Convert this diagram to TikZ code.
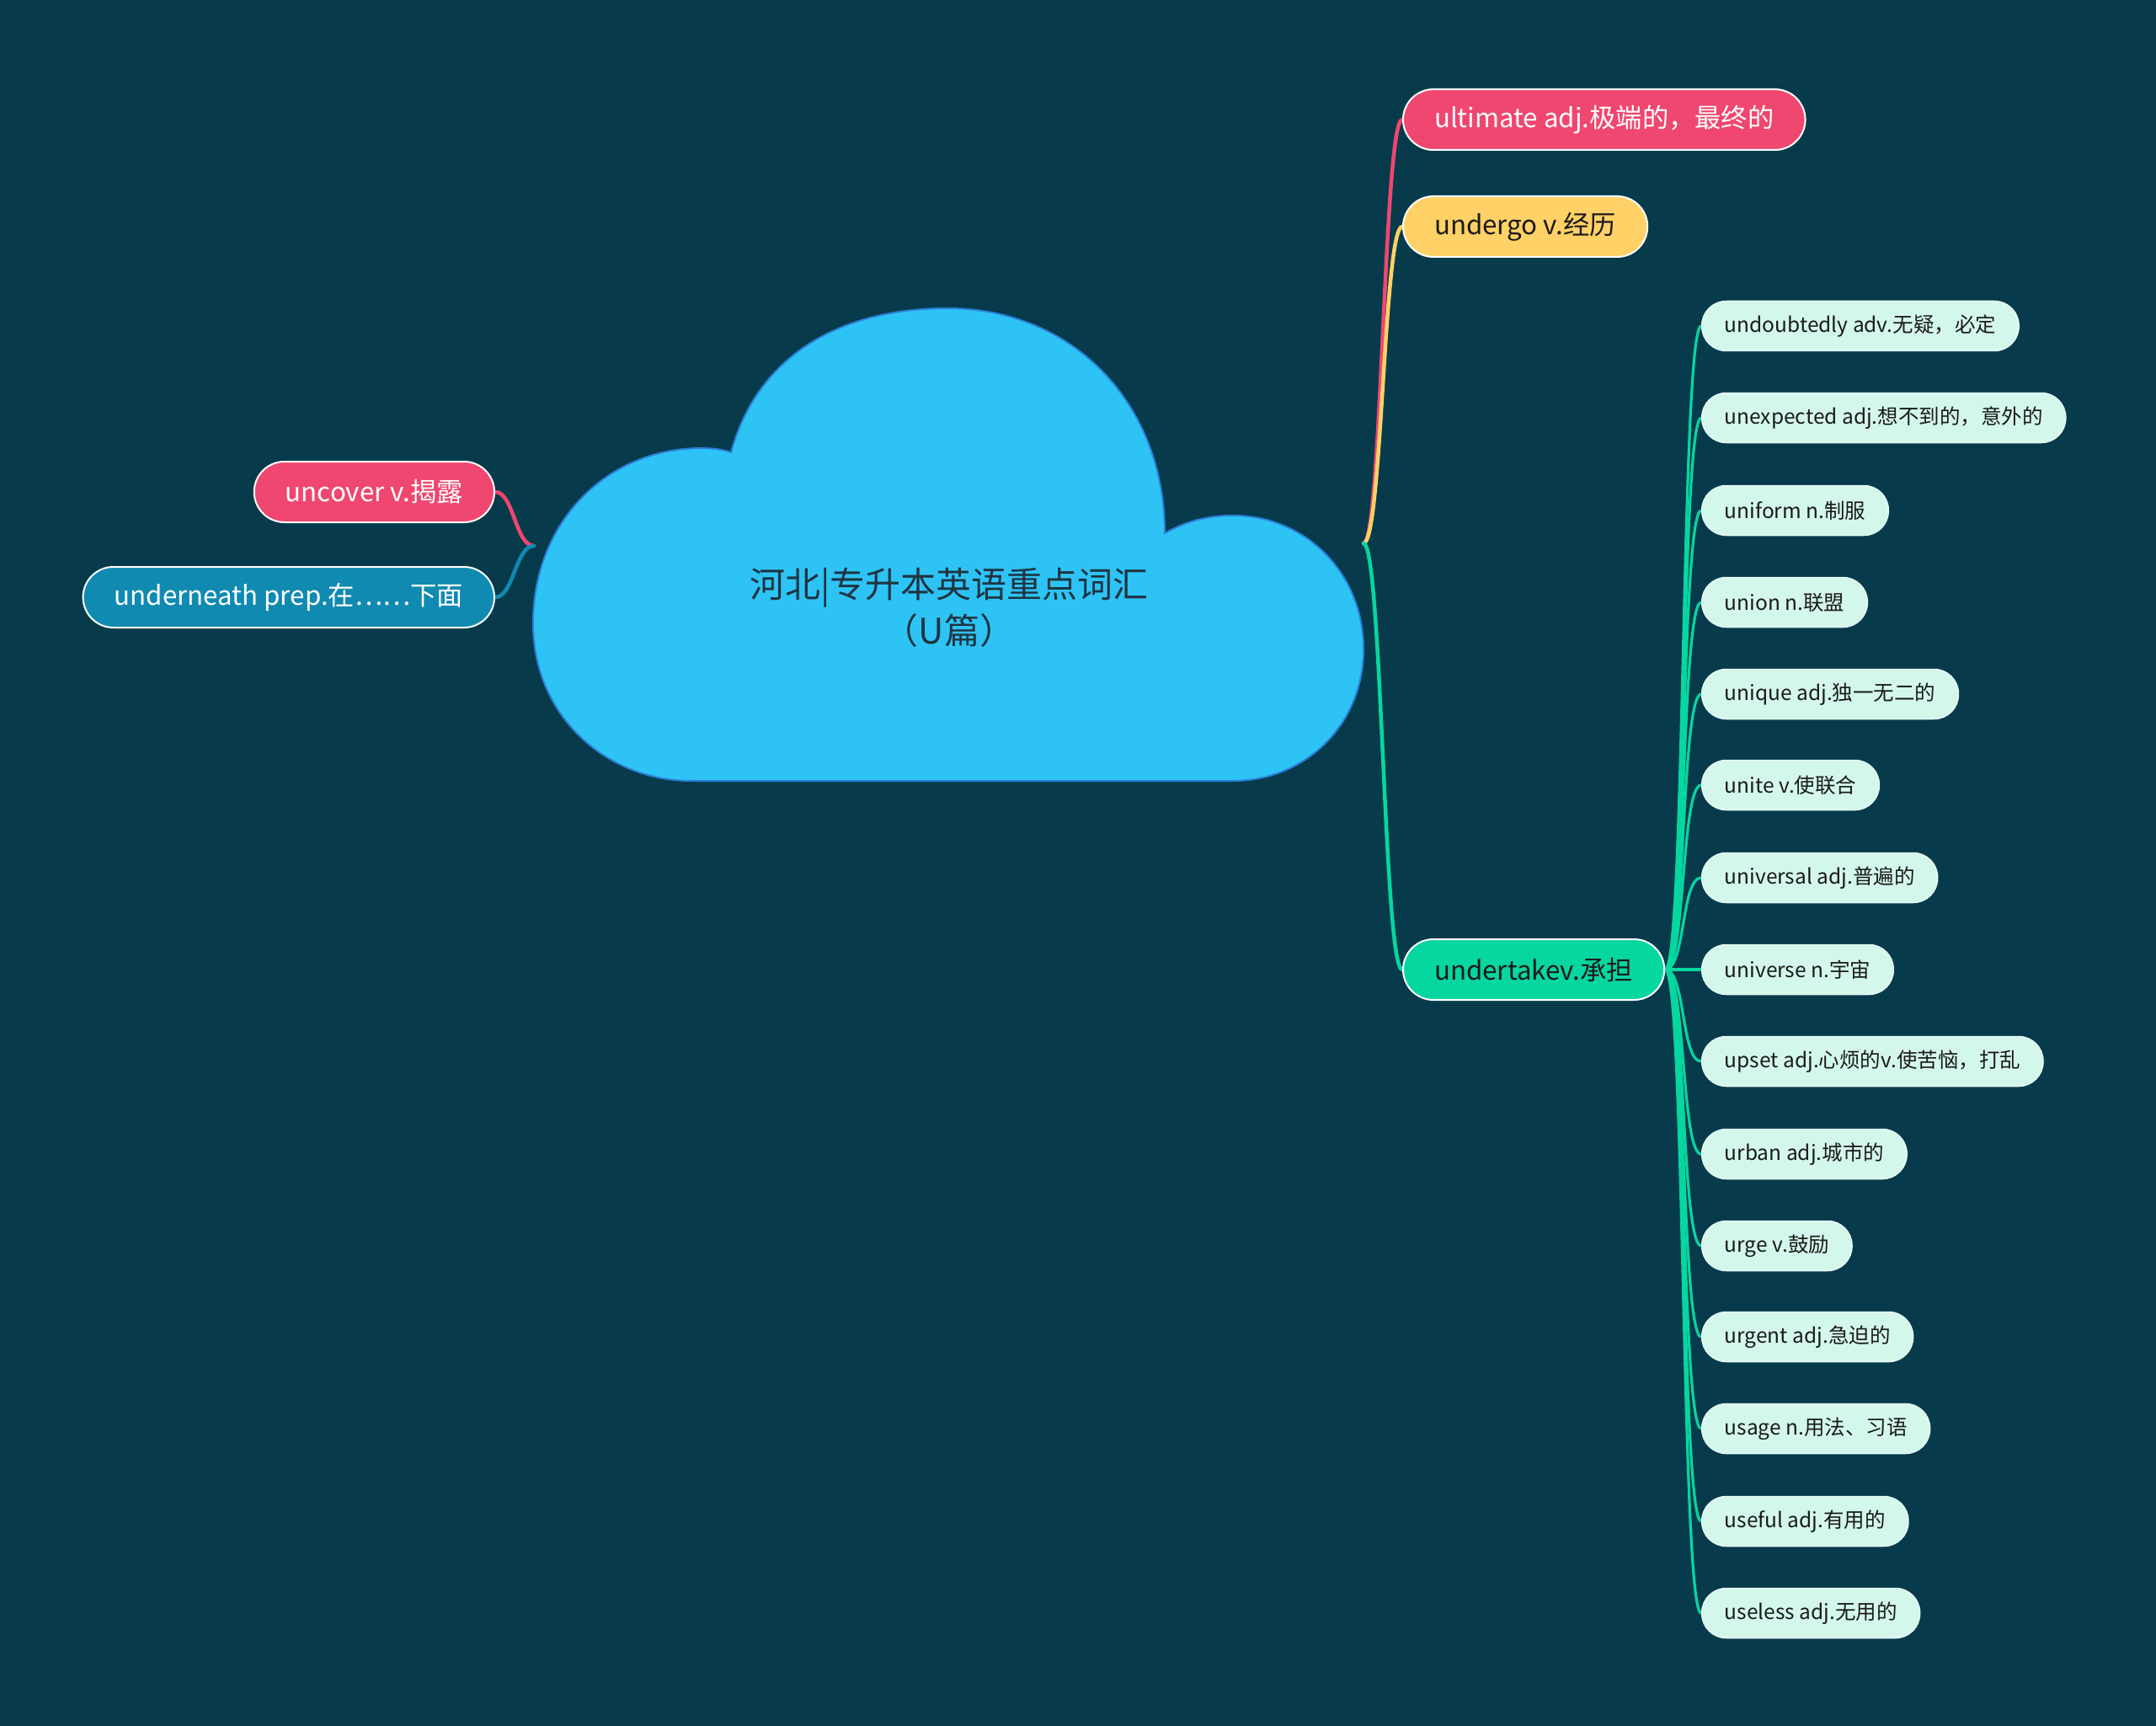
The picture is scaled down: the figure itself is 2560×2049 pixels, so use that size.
\documentclass[tikz,border=0pt]{standalone}
\usepackage{fontspec}
\setmainfont{Noto Sans CJK SC}
\usetikzlibrary{calc}
\pgfdeclarelayer{lines}
\pgfsetlayers{lines,main}
\definecolor{bg}{HTML}{073B4C}
\definecolor{cloudfill}{HTML}{2EC3F5}
\definecolor{cloudline}{HTML}{2B7FD6}
\definecolor{cpink}{HTML}{EF476F}
\definecolor{cyellow}{HTML}{FFD166}
\definecolor{cgreen}{HTML}{06D6A0}
\definecolor{cblue}{HTML}{118AB2}
\definecolor{leaffill}{HTML}{D4F7EC}
\definecolor{darktext}{HTML}{1A1A1A}
\definecolor{titletext}{HTML}{1E3440}
\tikzset{
  mainnode/.style={draw=white, line width=2pt, rounded corners=36pt, minimum height=72pt,
    inner xsep=37pt, inner ysep=0pt, font=\fontsize{31.3}{37}\selectfont},
  leafnode/.style={draw=leaffill!60!white, line width=1.5pt, fill=leaffill, text=darktext,
    rounded corners=29pt, minimum height=59pt, inner xsep=27pt, inner ysep=0pt,
    font=\fontsize{24.5}{29}\selectfont, anchor=west},
  branch/.style={line width=4.5pt, line cap=round},
  twig/.style={line width=3.2pt, line cap=round, cgreen},
}
\begin{document}
\begin{tikzpicture}[x=1pt,y=-1pt]
\begin{pgfonlayer}{lines}
\useasboundingbox (0,0) rectangle (2560,2049);
\fill[bg] (0,0) rectangle (2560,2049);
\end{pgfonlayer}

% cloud
\draw[fill=cloudfill, draw=cloudline, line width=2pt]
  (821,927) .. controls (720,927) and (633,850) .. (633,740)
  .. controls (633,620) and (720,532) .. (833,532)
  .. controls (848,532) and (860,534) .. (868,537)
  .. controls (900,420) and (1000,366) .. (1125,366)
  .. controls (1275,366) and (1383,480) .. (1383,633)
  .. controls (1410,618) and (1435,612) .. (1464,612)
  .. controls (1550,612) and (1619,680) .. (1619,771)
  .. controls (1619,860) and (1550,927) .. (1464,927) -- cycle;
\node[text=titletext, align=center, font=\fontsize{42}{55}\selectfont] (root) at (1127,721)
  {河北|专升本英语重点词汇\\（U篇）};
\coordinate (rootL) at (634,648);
\coordinate (rootR) at (1619,645);

% right main branches
\node[mainnode, fill=cpink, text=white, anchor=west] (ult) at (1665,142) {ultimate adj.极端的，最终的};
\node[mainnode, fill=cyellow, text=darktext, anchor=west] (und) at (1665,269) {undergo v.经历};
\node[mainnode, fill=cgreen, text=darktext, anchor=west] (utk) at (1665,1151) {undertakev.承担};

% left main branches
\node[mainnode, fill=cpink, text=white, anchor=east] (unc) at (588,584) {uncover v.揭露};
\node[mainnode, fill=cblue, text=white, anchor=east] (unn) at (588,709) {underneath prep.在……下面};

% leaves
\node[leafnode] (l1) at (2020,387) {undoubtedly adv.无疑，必定};
\node[leafnode] (l2) at (2020,496) {unexpected adj.想不到的，意外的};
\node[leafnode] (l3) at (2020,606) {uniform n.制服};
\node[leafnode] (l4) at (2020,715) {union n.联盟};
\node[leafnode] (l5) at (2020,824) {unique adj.独一无二的};
\node[leafnode] (l6) at (2020,932) {unite v.使联合};
\node[leafnode] (l7) at (2020,1042) {universal adj.普遍的};
\node[leafnode] (l8) at (2020,1151) {universe n.宇宙};
\node[leafnode] (l9) at (2020,1260) {upset adj.心烦的v.使苦恼，打乱};
\node[leafnode] (l10) at (2020,1370) {urban adj.城市的};
\node[leafnode] (l11) at (2020,1479) {urge v.鼓励};
\node[leafnode] (l12) at (2020,1587) {urgent adj.急迫的};
\node[leafnode] (l13) at (2020,1696) {usage n.用法、习语};
\node[leafnode] (l14) at (2020,1806) {useful adj.有用的};
\node[leafnode] (l15) at (2020,1915) {useless adj.无用的};

% connectors
\begin{pgfonlayer}{lines}
\draw[branch, cpink] (rootR) .. controls ($(rootR)+(22,0)$) and ($(ult.west)+(-22,0)$) .. (ult.west);
\draw[branch, cyellow] (rootR) .. controls ($(rootR)+(22,0)$) and ($(und.west)+(-22,0)$) .. (und.west);
\draw[branch, cgreen] (rootR) .. controls ($(rootR)+(22,0)$) and ($(utk.west)+(-22,0)$) .. (utk.west);
\draw[branch, cpink] (rootL) .. controls ($(rootL)+(-22,0)$) and ($(unc.east)+(22,0)$) .. (unc.east);
\draw[branch, cblue] (rootL) .. controls ($(rootL)+(-22,0)$) and ($(unn.east)+(22,0)$) .. (unn.east);
\foreach \i in {1,...,15}{
  \draw[twig] (utk.east) .. controls ($(utk.east)+(24,0)$) and ($(l\i.west)+(-24,0)$) .. (l\i.west);
}
\end{pgfonlayer}
\end{tikzpicture}
\end{document}
